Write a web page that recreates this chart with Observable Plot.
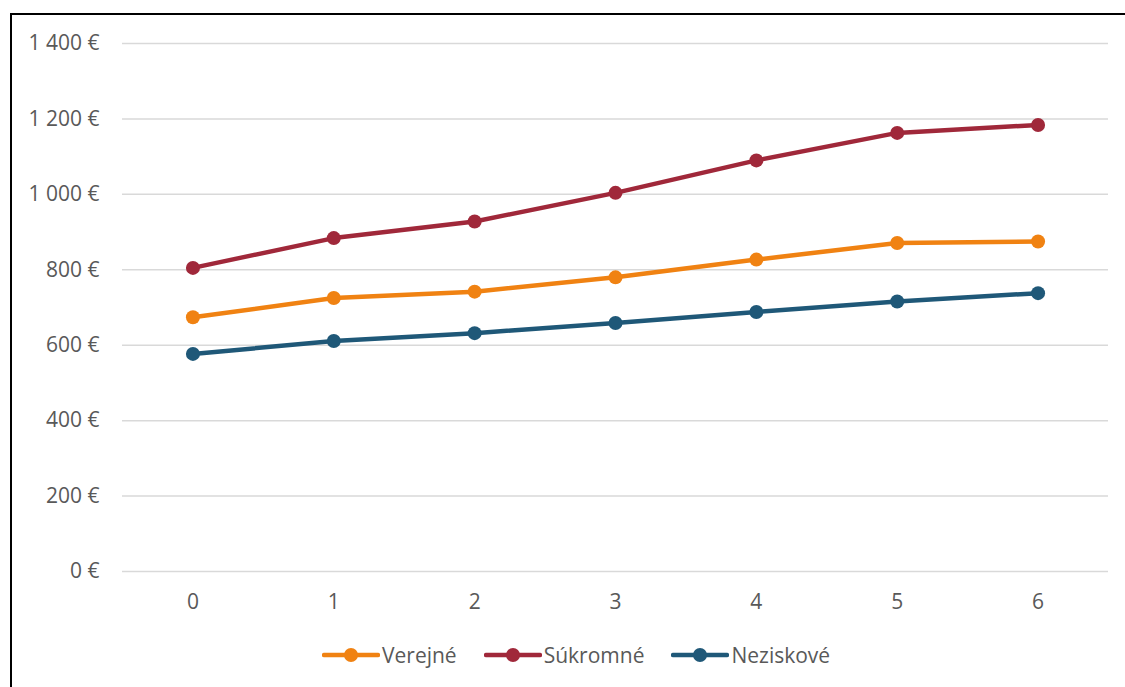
<!DOCTYPE html>
<html>
<head>
<meta charset="utf-8">
<script src="https://cdn.jsdelivr.net/npm/d3@7"></script>
<script src="https://cdn.jsdelivr.net/npm/@observablehq/plot@0.6"></script>
<style>
  html, body { margin: 0; padding: 0; background: #fff; width: 1125px; height: 687px; overflow: hidden; }
  #frame { position: absolute; left: 10px; top: 13px; width: 2000px; height: 2000px; border-top: 2px solid #000; border-left: 2px solid #000; }
  #chart { position: absolute; left: 0; top: 0; }
  #legend { position: absolute; left: 322px; top: 641px; height: 28px; display: flex; align-items: center; font-family: "Open Sans", sans-serif; font-size: 21px; color: #595959; }
  .item { display: flex; align-items: center; margin-right: 27px; }
  .item svg { margin-right: 2px; }
</style>
</head>
<body>
<div id="frame"></div>
<div id="chart"></div>
<div id="legend"></div>
<script>
const years = [0, 1, 2, 3, 4, 5, 6];
const seriesNames = ["Verejné", "Súkromné", "Neziskové"];
const verejne = [674, 725, 742, 780, 827, 871, 875];
const sukromne = [805, 884, 928, 1004, 1090, 1163, 1184];
const neziskove = [577, 611, 632, 659, 688, 716, 738];
const yTicks = [0, 200, 400, 600, 800, 1000, 1200, 1400];
const colors = ["#F08212", "#A0283A", "#1F5878"];

const seriesValues = [verejne, sukromne, neziskove];
const rows = [];
seriesNames.forEach((name, i) => {
  years.forEach((yr, j) => rows.push({series: name, x: yr, value: seriesValues[i][j]}));
});

const fmt = d => d3.format(",")(d).replace(/,/g, "\u00a0") + "\u00a0€";

const chart = Plot.plot({
  width: 1125,
  height: 630,
  marginLeft: 122,
  marginRight: 17,
  marginTop: 43,
  marginBottom: 59,
  style: {fontFamily: "'Open Sans', sans-serif", fontSize: "21px", color: "#595959", background: "transparent"},
  x: {type: "point", domain: years, padding: 0.5, round: false},
  y: {domain: [0, 1400]},
  color: {domain: seriesNames, range: colors},
  marks: [
    Plot.gridY(yTicks, {stroke: "#d9d9d9", strokeOpacity: 1, strokeWidth: 1.5}),
    Plot.axisY(yTicks, {tickSize: 0, tickPadding: 23, tickFormat: fmt, label: null, fill: "#595959"}),
    Plot.axisX(years, {tickSize: 0, tickPadding: 23, tickFormat: d => String(d), label: null, fill: "#595959"}),
    Plot.line(rows, {x: "x", y: "value", z: "series", stroke: "series", strokeWidth: 4.5, strokeLinejoin: "round", strokeLinecap: "round"}),
    Plot.dot(rows, {x: "x", y: "value", fill: "series", r: 7, stroke: "none"})
  ]
});
document.getElementById("chart").appendChild(chart);

const legend = document.getElementById("legend");
seriesNames.forEach((name, i) => {
  const item = document.createElement("div");
  item.className = "item";
  item.innerHTML = `<svg width="58" height="16"><line x1="2" y1="8" x2="56" y2="8" stroke="${colors[i]}" stroke-width="4.5" stroke-linecap="round"/><circle cx="29" cy="8" r="7" fill="${colors[i]}"/></svg><span>${name}</span>`;
  legend.appendChild(item);
});
</script>
</body>
</html>
